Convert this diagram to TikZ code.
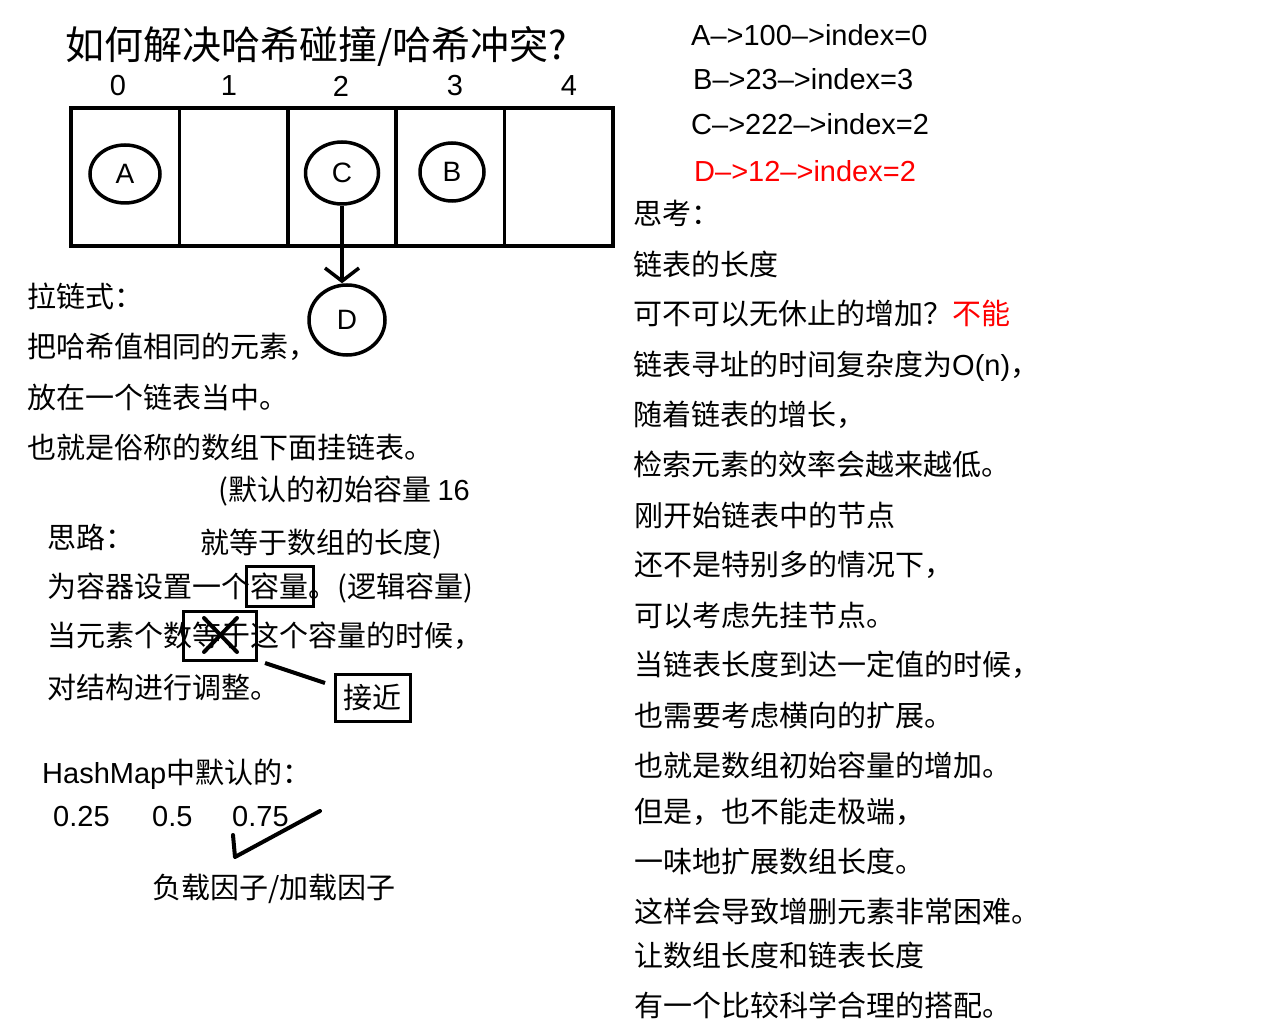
\documentclass[tikz,border=0pt]{standalone}
\usepackage{fontspec}
\setmainfont{Noto Sans CJK SC}
\newfontfamily\lat{Liberation Sans}
\usetikzlibrary{shapes.geometric,arrows.meta}
\definecolor{hred}{RGB}{255,0,0}
\begin{document}
\begin{tikzpicture}[x=1pt,y=-1pt,
  cn/.style={inner sep=0pt,anchor=base west,font=\fontsize{29}{34}\selectfont},
  ln/.style={inner sep=0pt,anchor=base west,font=\lat\fontsize{29}{34}\selectfont},
  idx/.style={inner sep=0pt,font=\lat\fontsize{29}{34}\selectfont},
  cell/.style={draw,line width=3.5pt,minimum width=108.4pt,minimum height=138pt,inner sep=0pt},
  ring/.style={ellipse,draw,line width=3.5pt,inner sep=0pt,font=\lat\fontsize{28}{30}\selectfont},
  box/.style={draw,line width=3pt,inner sep=0pt},
  pen/.style={line width=4pt,line cap=round,line join=round}]
\useasboundingbox[fill=white] (0,0) rectangle (1280,1024);

% title
\node[inner sep=0pt,anchor=base west,font=\fontsize{39}{44}\selectfont] (title) at (65,60) {如何解决哈希碰撞/哈希冲突?};

% indices
\node[idx] (i0) at (118,86) {0};
\node[idx] (i1) at (229,86) {1};
\node[idx] (i2) at (341,86) {2};
\node[idx] (i3) at (455,86) {3};
\node[idx] (i4) at (569,86) {4};

% array cells
\node[cell] (c0) at (125.2,177) {};
\node[cell] (c1) at (233.6,177) {};
\node[cell] (c2) at (342.0,177) {};
\node[cell] (c3) at (450.4,177) {};
\node[cell] (c4) at (558.8,177) {};

% entries
\node[ring,minimum width=70pt,minimum height=58pt] (A) at (125,174) {A};
\node[ring,minimum width=73pt,minimum height=62pt] (C) at (342,173) {C};
\node[ring,minimum width=64pt,minimum height=58pt] (B) at (452,172) {B};
\node[ring,minimum width=76pt,minimum height=70pt] (D) at (347,320) {D};
\draw[line width=3.5pt,-{Straight Barb[length=13pt,width=34pt]}] (C.south) -- (C.south |- D.north);

% left column
\node[cn] (l1) at (27,308) {拉链式：};
\node[cn] (l2) at (27,358) {把哈希值相同的元素，};
\node[cn] (l3) at (27,408) {放在一个链表当中。};
\node[cn] (l4) at (27,458) {也就是俗称的数组下面挂链表。};
\node[cn] (l5) at (218,500) {(默认的初始容量 {\lat 16}};
\node[cn] (l6) at (47,548) {思路：};
\node[cn] (l7) at (200,553) {就等于数组的长度)};
\node[cn] (l8) at (47,597) {为容器设置一个容量。(逻辑容量)};
\node[cn] (l9) at (47,646) {当元素个数等于这个容量的时候，};
\node[cn] (l10) at (47,698) {对结构进行调整。};

% marks
\node[box,minimum width=67pt,minimum height=40pt] (cap) at (279.5,586) {};
\node[box,minimum width=73pt,minimum height=49pt] (eq) at (219.5,635.5) {};
\draw[pen] (204,618) -- (237,652);
\draw[pen] (237,618) -- (204,652);
\node[box,minimum width=75pt,minimum height=47pt,font=\fontsize{29}{34}\selectfont] (near) at (372.5,697.5) {接近};
\coordinate (n1) at (265,663);
\coordinate (n2) at (325,683);
\draw[pen,line cap=butt] (n1) -- (n2);

% HashMap
\node[cn] (h1) at (42,783) {{\lat HashMap}中默认的：};
\node[ln] (f1) at (53,826) {0.25};
\node[ln] (f2) at (152,826) {0.5};
\node[ln] (f3) at (232,826) {0.75};
\draw[pen] (233,835) -- (235,857) -- (320,811);
\node[cn] (lf) at (152,898) {负载因子/加载因子};

% right column
\node[ln] (ra) at (691,45.5) {A–>100–>index=0};
\node[ln] (rb) at (693,90) {B–>23–>index=3};
\node[ln] (rc) at (691,134.5) {C–>222–>index=2};
\node[ln,text=hred] (rd) at (694,182) {D–>12–>index=2};
\node[cn] (r0) at (633,225) {思考：};
\node[cn] (r1) at (633,275.5) {链表的长度};
\node[cn] (r2) at (633,325) {可不可以无休止的增加？\textcolor{hred}{不能}};
\node[cn] (r3) at (633,375.5) {链表寻址的时间复杂度为{\lat O(n)}，};
\node[cn] (r4) at (633,425.5) {随着链表的增长，};
\node[cn] (r5) at (633,475.5) {检索元素的效率会越来越低。};
\node[cn] (r6) at (634,526) {刚开始链表中的节点};
\node[cn] (r7) at (634,575.5) {还不是特别多的情况下，};
\node[cn] (r8) at (634,626) {可以考虑先挂节点。};
\node[cn] (r9) at (634,675.5) {当链表长度到达一定值的时候，};
\node[cn] (r10) at (634,726) {也需要考虑横向的扩展。};
\node[cn] (r11) at (634,776) {也就是数组初始容量的增加。};
\node[cn] (r12) at (634,822.5) {但是，也不能走极端，};
\node[cn] (r13) at (634,872.5) {一味地扩展数组长度。};
\node[cn] (r14) at (634,922.5) {这样会导致增删元素非常困难。};
\node[cn] (r15) at (634,966) {让数组长度和链表长度};
\node[cn] (r16) at (634,1016) {有一个比较科学合理的搭配。};
\end{tikzpicture}
\end{document}
